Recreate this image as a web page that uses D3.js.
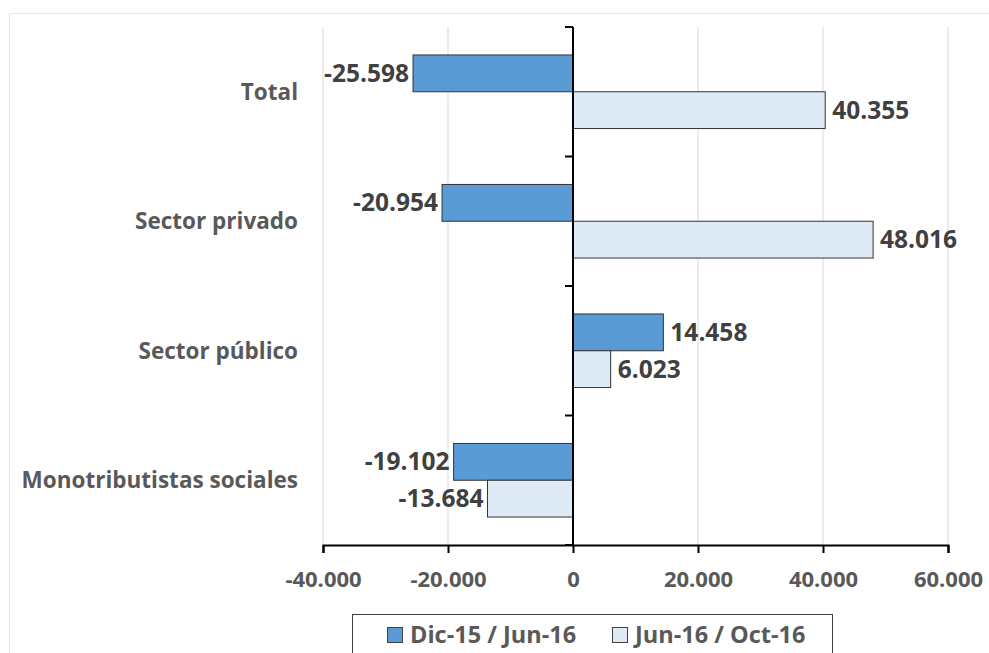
<!DOCTYPE html>
<html>
<head>
<meta charset="utf-8">
<script src="https://cdn.jsdelivr.net/npm/d3@7"></script>
<style>
  body { margin: 0; background: #fff; }
  text { font-family: "Open Sans", sans-serif; font-weight: bold; }
</style>
</head>
<body>
<script>
var categories = ["Total", "Sector privado", "Sector público", "Monotributistas sociales"];
var seriesNames = ["Dic-15 / Jun-16", "Jun-16 / Oct-16"];
var dic15Jun16 = [-25598, -20954, 14458, -19102];
var jun16Oct16 = [40355, 48016, 6023, -13684];
var xTicks = [-40000, -20000, 0, 20000, 40000, 60000];
var colors = ["#5B9BD5", "#DEEBF7"];

var width = 989,
    height = 653;

var svg = d3.select("body")
            .append("svg")
            .attr("width", width)
            .attr("height", height);

// chart area border (cut off at the right and bottom)
svg.append("rect")
   .attr("x", 9.5).attr("y", 13.5)
   .attr("width", 1000).attr("height", 700)
   .attr("fill", "none")
   .attr("stroke", "#e6e6e6");

var x = d3.scaleLinear()
          .domain([-40000, 60000])
          .range([323, 948]);

var y0 = d3.scaleBand()
           .domain(categories)
           .range([27, 545]);

var y1 = d3.scaleBand()
           .domain(seriesNames)
           .range([0, y0.bandwidth()])
           .paddingOuter(0.76);

var fmt = function(v) {
    var s = d3.format(",")(v);
    return s.replace(/,/g, ".").replace("−", "-");
};

// gridlines
svg.append("g")
   .selectAll("line")
   .data(xTicks)
   .enter()
   .append("line")
     .attr("x1", d => x(d)).attr("x2", d => x(d))
     .attr("y1", 27).attr("y2", 545)
     .attr("stroke", "#d9d9d9")
     .attr("stroke-width", 1);

var rows = categories.map(function(c, i) {
    return { cat: c, vals: [dic15Jun16[i], jun16Oct16[i]] };
});

var groups = svg.append("g")
                .selectAll("g")
                .data(rows)
                .enter()
                .append("g")
                  .attr("transform", d => "translate(0," + y0(d.cat) + ")");

groups.selectAll("rect")
      .data(d => d.vals.map((v, j) => ({ name: seriesNames[j], v: v, j: j })))
      .enter()
      .append("rect")
        .attr("x", d => x(Math.min(0, d.v)))
        .attr("y", d => y1(d.name))
        .attr("width", d => Math.abs(x(d.v) - x(0)))
        .attr("height", y1.bandwidth())
        .attr("fill", d => colors[d.j])
        .attr("stroke", "#333")
        .attr("stroke-width", 1);

groups.selectAll("text.val")
      .data(d => d.vals.map((v, j) => ({ name: seriesNames[j], v: v, j: j })))
      .enter()
      .append("text")
        .attr("class", "val")
        .attr("x", d => d.v < 0 ? x(d.v) - 4 : x(d.v) + 7)
        .attr("y", d => y1(d.name) + y1.bandwidth() / 2)
        .attr("dy", "0.35em")
        .attr("text-anchor", d => d.v < 0 ? "end" : "start")
        .attr("fill", "#404040")
        .style("font-size", "24.5px")
        .text(d => fmt(d.v));

// x axis
var xAxis = svg.append("g")
               .attr("transform", "translate(0,545)")
               .call(d3.axisBottom(x).tickValues(xTicks).tickSize(8).tickPadding(18).tickFormat(fmt));
xAxis.select(".domain").attr("stroke", "#000").attr("stroke-width", 2);
xAxis.selectAll(".tick line").attr("stroke", "#000").attr("stroke-width", 2);
xAxis.selectAll(".tick text")
     .attr("fill", "#595959")
     .style("font-size", "22px")
     .style("font-family", "Open Sans, sans-serif");

// y axis at zero with ticks on band edges
var yAxis = svg.append("g");
yAxis.append("line")
     .attr("x1", x(0)).attr("x2", x(0))
     .attr("y1", 27).attr("y2", 545)
     .attr("stroke", "#000").attr("stroke-width", 2);
var edges = categories.map(c => y0(c)).concat([y0.range()[1]]);
yAxis.selectAll("line.tk")
     .data(edges)
     .enter()
     .append("line")
       .attr("class", "tk")
       .attr("x1", x(0) - 8).attr("x2", x(0))
       .attr("y1", d => d).attr("y2", d => d)
       .attr("stroke", "#000").attr("stroke-width", 2);

// category labels
svg.append("g")
   .selectAll("text")
   .data(categories)
   .enter()
   .append("text")
     .attr("x", 298)
     .attr("y", d => y0(d) + y0.bandwidth() / 2)
     .attr("dy", "0.35em")
     .attr("text-anchor", "end")
     .attr("fill", "#595959")
     .style("font-size", "22.5px")
     .text(d => d);

// legend
var legend = svg.append("g");
legend.append("rect")
      .attr("x", 352.5).attr("y", 614.5)
      .attr("width", 480).attr("height", 60)
      .attr("fill", "#fff")
      .attr("stroke", "#404040");
var legX = [387, 612];
var items = legend.selectAll("g")
                  .data(seriesNames)
                  .enter()
                  .append("g")
                    .attr("transform", (d, i) => "translate(" + legX[i] + ",627)");
items.append("rect")
     .attr("width", 15).attr("height", 15)
     .attr("x", 0.5).attr("y", 0.5)
     .attr("fill", (d, i) => colors[i])
     .attr("stroke", "#404040");
items.append("text")
     .attr("x", 23).attr("y", 8)
     .attr("dy", "0.35em")
     .attr("fill", "#595959")
     .style("font-size", "23.5px")
     .text(d => d);
</script>
</body>
</html>
